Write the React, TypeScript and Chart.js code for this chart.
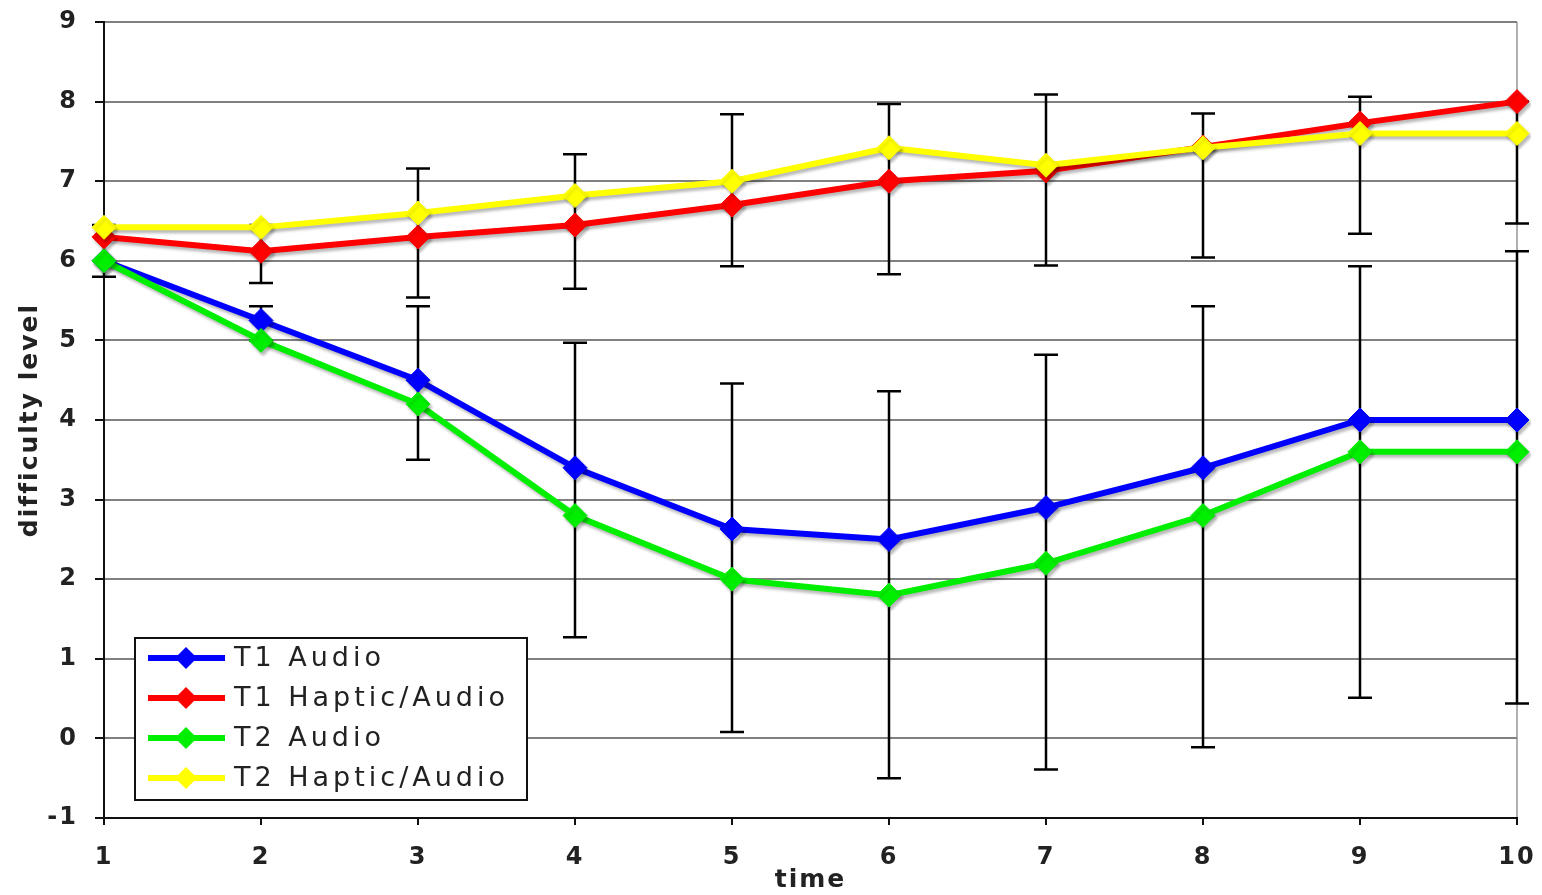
import React, { useEffect, useRef } from 'react';
import { Chart, registerables } from 'chart.js';

Chart.register(...registerables);

const times = [1, 2, 3, 4, 5, 6, 7, 8, 9, 10];
const seriesNames = ['T1 Audio', 'T1 Haptic/Audio', 'T2 Audio', 'T2 Haptic/Audio'];
const t1Audio = [6.0, 5.25, 4.5, 3.4, 2.63, 2.5, 2.9, 3.4, 4.0, 4.0];
const t1Haptic = [6.3, 6.12, 6.3, 6.45, 6.7, 7.0, 7.13, 7.43, 7.73, 8.0];
const t2Audio = [6.0, 5.0, 4.2, 2.8, 2.0, 1.8, 2.2, 2.8, 3.6, 3.6];
const t2Haptic = [6.42, 6.42, 6.6, 6.82, 7.0, 7.42, 7.2, 7.42, 7.6, 7.6];
const hapticErrLow = [5.8, 5.72, 5.54, 5.65, 5.93, 5.83, 5.94, 6.04, 6.34, 6.47];
const hapticErrHigh = [6.45, 6.45, 7.16, 7.34, 7.84, 7.97, 8.09, 7.85, 8.06, 8.0];
const audioErrLow = [6.0, 5.0, 3.5, 1.27, 0.08, -0.5, -0.39, -0.11, 0.51, 0.44];
const audioErrHigh = [6.0, 5.43, 5.43, 4.97, 4.46, 4.36, 4.82, 5.43, 5.93, 6.12];
const yMin = -1;
const yMax = 9;
const xMin = 1;
const xMax = 10;
const xTitle = 'time';
const yTitle = 'difficulty level';

const colors = ['#0000ff', '#ff0000', '#00ee00', '#ffff00'];
const seriesValues = [t1Audio, t1Haptic, t2Audio, t2Haptic];
const drawOrder = [3, 2, 1, 0];

const errorBarPlugin = {
  id: 'errorBars',
  beforeDatasetsDraw(chart: any) {
    const { ctx, scales } = chart;
    const xs = scales.x;
    const ys = scales.y;
    const groups = [
      [hapticErrLow, hapticErrHigh],
      [audioErrLow, audioErrHigh],
    ];
    ctx.save();
    ctx.strokeStyle = '#000';
    ctx.lineWidth = 2.5;
    groups.forEach(([lo, hi]) => {
      times.forEach((t, i) => {
        if (lo[i] === hi[i]) return;
        const x = xs.getPixelForValue(t);
        const y1 = ys.getPixelForValue(lo[i]);
        const y2 = ys.getPixelForValue(hi[i]);
        ctx.beginPath();
        ctx.moveTo(x, y1);
        ctx.lineTo(x, y2);
        ctx.moveTo(x - 12, y1);
        ctx.lineTo(x + 12, y1);
        ctx.moveTo(x - 12, y2);
        ctx.lineTo(x + 12, y2);
        ctx.stroke();
      });
    });
    ctx.restore();
  },
};

const shadowPlugin = {
  id: 'lineShadow',
  beforeDatasetDraw(chart: any) {
    const ctx = chart.ctx;
    ctx.save();
    ctx.shadowColor = 'rgba(0,0,0,0.28)';
    ctx.shadowOffsetX = 2;
    ctx.shadowOffsetY = 3;
    ctx.shadowBlur = 3;
  },
  afterDatasetDraw(chart: any) {
    chart.ctx.restore();
  },
};

const spacingPlugin = {
  id: 'letterSpacing',
  beforeDraw(chart: any) {
    (chart.ctx as any).letterSpacing = '2px';
  },
};

const legendPlugin = {
  id: 'boxLegend',
  afterDraw(chart: any) {
    const { ctx, chartArea } = chart;
    const boxL = chartArea.left + 31;
    const boxT = chartArea.bottom - 180;
    const boxW = 392;
    const boxH = 162;
    ctx.save();
    ctx.fillStyle = '#ffffff';
    ctx.fillRect(boxL, boxT, boxW, boxH);
    ctx.strokeStyle = '#111';
    ctx.lineWidth = 2;
    ctx.strokeRect(boxL, boxT, boxW, boxH);
    seriesNames.forEach((name, i) => {
      const y = boxT + 20 + 40 * i;
      ctx.strokeStyle = colors[i];
      ctx.lineWidth = 6;
      ctx.beginPath();
      ctx.moveTo(boxL + 13, y);
      ctx.lineTo(boxL + 90, y);
      ctx.stroke();
      const cx = boxL + 51;
      const r = 11;
      ctx.fillStyle = colors[i];
      ctx.beginPath();
      ctx.moveTo(cx, y - r);
      ctx.lineTo(cx + r, y);
      ctx.lineTo(cx, y + r);
      ctx.lineTo(cx - r, y);
      ctx.closePath();
      ctx.fill();
      (ctx as any).letterSpacing = '4px';
      ctx.fillStyle = '#222';
      ctx.font = '27px "DejaVu Sans"';
      ctx.textBaseline = 'middle';
      ctx.textAlign = 'left';
      ctx.fillText(name, boxL + 99, y + 1);
    });
    ctx.restore();
  },
};

export default function App() {
  const canvasRef = useRef<HTMLCanvasElement | null>(null);

  useEffect(() => {
    if (!canvasRef.current) return;
    const datasets = seriesNames.map((name, i) => ({
      label: name,
      data: times.map((t, j) => ({ x: t, y: seriesValues[i][j] })),
      borderColor: colors[i],
      backgroundColor: colors[i],
      borderWidth: 6,
      pointStyle: 'rectRot' as const,
      pointRadius: 12,
      pointBorderWidth: 1,
      pointBackgroundColor: colors[i],
      pointBorderColor: colors[i],
      tension: 0,
      order: drawOrder[i],
      clip: 14,
    }));

    const tickFont = { family: '"DejaVu Sans"', size: 24, weight: 'bold' as const };
    const titleFont = { family: '"DejaVu Sans"', size: 25, weight: 'bold' as const };

    const chart = new Chart(canvasRef.current, {
      type: 'line',
      data: { datasets },
      plugins: [spacingPlugin, errorBarPlugin, shadowPlugin, legendPlugin],
      options: {
        animation: false,
        responsive: false,
        devicePixelRatio: 1,
        layout: { padding: { top: 22, right: 25, left: 0, bottom: 0 } },
        plugins: {
          legend: { display: false },
          tooltip: { enabled: false },
        },
        scales: {
          x: {
            type: 'linear',
            min: xMin,
            max: xMax,
            afterFit(scale: any) {
              scale.height = 77;
              scale.paddingLeft = 0;
              scale.paddingRight = 0;
            },
            ticks: {
              stepSize: 1,
              color: '#222',
              font: tickFont,
              padding: 18,
              maxRotation: 0,
            },
            grid: {
              color: (c: any) => (c.tick && c.tick.value === xMax ? '#b0b0b0' : 'rgba(0,0,0,0)'),
              lineWidth: 2,
              tickColor: '#111',
              tickLength: 7,
            },
            border: { display: true, color: '#111', width: 2 },
            title: {
              display: true,
              text: xTitle,
              color: '#222',
              font: titleFont,
              padding: { top: 0, bottom: 0 },
            },
          },
          y: {
            type: 'linear',
            min: yMin,
            max: yMax,
            afterFit(scale: any) {
              scale.width = 104;
              scale.paddingTop = 0;
              scale.paddingBottom = 0;
            },
            ticks: {
              stepSize: 1,
              color: '#222',
              font: tickFont,
              padding: 17,
            },
            grid: {
              color: '#808080',
              lineWidth: 2,
              tickColor: '#111',
              tickLength: 9,
            },
            border: { display: true, color: '#111', width: 2 },
            title: {
              display: true,
              text: yTitle,
              color: '#222',
              font: titleFont,
              padding: { top: 15, bottom: 0 },
            },
          },
        },
      },
    });
    return () => chart.destroy();
  }, []);

  return (
    <div style={{ position: 'fixed', left: 0, top: 0, width: 1542, height: 895, background: '#fff' }}>
      <canvas ref={canvasRef} width={1542} height={895} style={{ display: 'block' }} />
    </div>
  );
}
